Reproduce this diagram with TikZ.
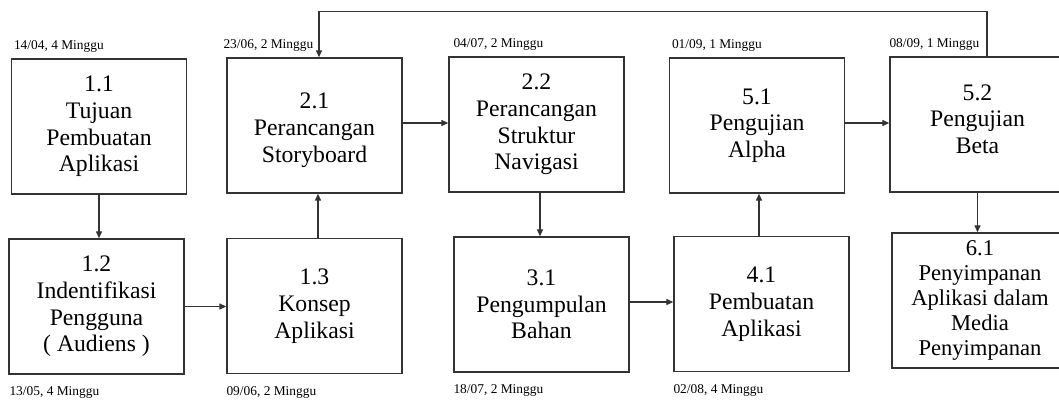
\documentclass[tikz,border=0pt]{standalone}
\usepackage{fontspec}
\setmainfont{Liberation Serif}
\usetikzlibrary{arrows.meta,positioning}

\begin{document}
\begin{tikzpicture}[x=1pt, y=-1pt,
   taskbox/.style={rectangle, draw=black!80, line width=1.35pt, minimum width=175pt, minimum height=135pt, inner sep=0pt, align=center, font=\fontsize{23.7}{26.7}\selectfont},
   datelbl/.style={inner sep=0pt, font=\fontsize{13.4}{15}\selectfont},
   flow/.style={draw=black!80, line width=1.3pt, -{Triangle[length=7pt,width=6pt]}}]
   \useasboundingbox (0,0) rectangle (1059,399);
   \clip (0,0) rectangle (1059,399);
   % upper row
   \node[taskbox] (n11) at (99,126.5) {1.1\\Tujuan\\Pembuatan\\Aplikasi};
   \node[taskbox] (n21) at (314.5,125.5) {\mbox{}\\[-1.7pt]2.1\\Perancangan\\Storyboard};
   \node[taskbox] (n22) at (536.5,124.5) {2.2\\Perancangan\\Struktur\\Navigasi};
   \node[taskbox] (n51) at (757,125.5) {5.1\\Pengujian\\Alpha};
   \node[taskbox] (n52) at (977.5,124.5) {5.2\\Pengujian\\Beta\\[-15.7pt]\mbox{}};
   % lower row
   \node[taskbox] (n12) at (96.5,306.5) {1.2\\Indentifikasi\\Pengguna\\( Audiens )};
   \node[taskbox] (n13) at (314.5,306) {1.3\\Konsep\\Aplikasi};
   \node[taskbox] (n31) at (541.5,304.5) {3.1\\Pengumpulan\\Bahan};
   \node[taskbox] (n41) at (761.5,304) {4.1\\Pembuatan\\Aplikasi};
   \node[taskbox, minimum width=176pt, font=\fontsize{22.6}{25}\selectfont] (n61) at (980,300.5) {6.1\\Penyimpanan\\Aplikasi dalam\\Media\\Penyimpanan};
   % dates
   \node[datelbl, above right=6pt and 3pt of n11.north west] (d11) {14/04, 4 Minggu};
   \node[datelbl, above right=6pt and -3pt of n21.north west] (d21) {23/06, 2 Minggu};
   \node[datelbl, above right=6pt and 5pt of n22.north west] (d22) {04/07, 2 Minggu};
   \node[datelbl, above right=6pt and 3pt of n51.north west] (d51) {01/09, 1 Minggu};
   \node[datelbl, above right=6pt and 0pt of n52.north west] (d52) {08/09, 1 Minggu};
   \node[datelbl, below right=12pt and 1pt of n12.south west] (d12) {13/05, 4 Minggu};
   \node[datelbl, below right=12pt and 0pt of n13.south west] (d13) {09/06, 2 Minggu};
   \node[datelbl, below right=12pt and 0pt of n31.south west] (d31) {18/07, 2 Minggu};
   \node[datelbl, below right=12pt and 0pt of n41.south west] (d41) {02/08, 4 Minggu};
   % connectors
   \draw[flow] (n11.south) -- (n11.south |- n12.north);
   \draw[flow] (n12.east) -- (n12.east -| n13.west);
   \draw[flow] ([xshift=3.5pt]n13.north) -- ([xshift=3.5pt]n13.north |- n21.south);
   \draw[flow] ([yshift=2.5pt]n21.east) -- ([yshift=2.5pt]n21.east -| n22.west);
   \draw[flow] ([xshift=3.5pt]n22.south) -- ([xshift=3.5pt]n22.south |- n31.north);
   \draw[flow] ([yshift=2.5pt]n31.east) -- ([yshift=2.5pt]n31.east -| n41.west);
   \draw[flow] ([xshift=-2.5pt]n41.north) -- ([xshift=-2.5pt]n41.north |- n51.south);
   \draw[flow] ([yshift=2.5pt]n51.east) -- ([yshift=2.5pt]n51.east -| n52.west);
   \draw[flow] (n52.south) -- (n52.south |- n61.north);
   \draw[flow] ([xshift=9.5pt]n52.north) -- ++(0,-45) -| ([xshift=4.5pt]n21.north);
\end{tikzpicture}
\end{document}
